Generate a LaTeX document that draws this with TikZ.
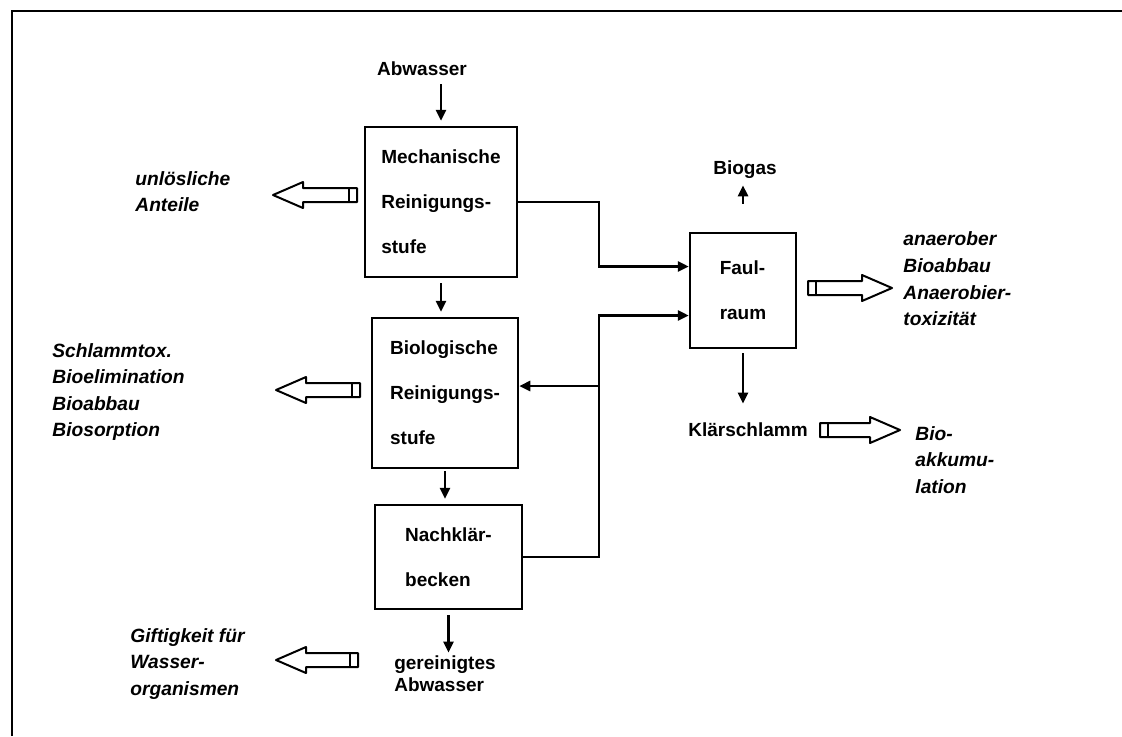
\documentclass[tikz,border=0pt]{standalone}
\usepackage{fontspec}
\setmainfont{Liberation Sans}
\usetikzlibrary{arrows.meta,calc}
\newcommand{\hollowarrow}[3]{% #1 tail coord, #2 tip coord, #3 sign (+1 tip left, -1 tip right)
  \draw[hollow] (#2) -- ++({#3*30},-13) -- ++(0,6) -- ($(#1)+(0,-7)$) -- ($(#1)+(0,7)$) -- ($(#2)+({#3*30},7)$) -- ++(0,6) -- cycle;
  \draw[hollow] ($(#1)+({#3*(-8)},-7)$) -- ++(0,14);}
\begin{document}
\begin{tikzpicture}[x=0.5pt,y=-0.5pt,
  box/.style={draw,line width=1.25pt,align=left,inner sep=0pt,font=\bfseries\fontsize{9.5}{22.5}\selectfont},
  lbl/.style={align=left,inner sep=0pt,anchor=west,font=\bfseries\itshape\fontsize{9.6}{13.3}\selectfont},
  txt/.style={align=center,inner sep=0pt,font=\bfseries\fontsize{9.5}{11}\selectfont},
  arr/.style={line width=1.3pt,-{Triangle[length=5.5pt,width=5pt]}},
  hollow/.style={line width=1pt,line join=round}]
\useasboundingbox (0,0) rectangle (1122,736);
% frame
\draw[line width=1.1pt] (12,736) -- (12,11) -- (1122,11);
% boxes
\node[box,minimum width=76pt,minimum height=75pt] (mech) at (441,202) {Mechanische\\Reinigungs-\\stufe};
\node[box,minimum width=73pt,minimum height=75pt] (bio) at (445,393) {Biologische\\Reinigungs-\\stufe};
\node[box,minimum width=73.5pt,minimum height=52pt] (nach) at (448.5,557) {Nachklär-\\becken};
\node[box,minimum width=53pt,minimum height=57.5pt] (faul) at (743,290.5) {Faul-\\raum};
% plain texts
\node[txt] (ab) at (422,69) {Abwasser};
\node[txt] (gas) at (745,170) {Biogas};
\node[txt] (kl) at (748,430) {Klärschlamm};
\node[txt,align=left] (ger) at (445,674) {gereinigtes\\Abwasser};
% italic labels
\node[lbl] (unl) at (135,191.5) {unlösliche\\Anteile};
\node[lbl] (schl) at (52,392) {Schlammtox.\\Bioelimination\\Bioabbau\\Biosorption};
\node[lbl] (gift) at (130,664) {Giftigkeit für\\Wasser-\\organismen};
\node[lbl] (anae) at (903,279) {anaerober\\Bioabbau\\Anaerobier-\\toxizität};
\node[lbl] (bioak) at (915,460) {Bio-\\akkumu-\\lation};
% connectors
\coordinate (bus) at (599,0);
\coordinate (fa1) at ([yshift=12pt]faul.west);
\coordinate (fa2) at ([yshift=-12.5pt]faul.west);
\coordinate (bi) at ([yshift=3.5pt]bio.east);
\draw[arr,shorten <=4pt,shorten >=2.5pt] (ab.south -| mech.north) -- (mech.north);
\draw[arr,shorten <=2.5pt,shorten >=2.5pt] (mech.south) -- (mech.south |- bio.north);
\draw[arr,shorten <=1pt,shorten >=2.5pt] (bio.south) -- (bio.south |- nach.north);
\draw[arr,shorten <=2.5pt,shorten >=1.5pt] (nach.south) -- (nach.south |- ger.north);
\draw[arr] (mech.east) -- (mech.east -| bus) -- (bus |- fa1) -- (fa1);
\draw[arr] (nach.east) -- (nach.east -| bus) -- (bus |- fa2) -- (fa2);
\draw[arr] (bus |- bi) -- (bi);
\draw[arr,shorten <=14pt,shorten >=3pt] (faul.north) -- (faul.north |- gas.south);
\draw[arr,shorten <=2pt,shorten >=9.5pt] (faul.south) -- (faul.south |- kl.north);
% hollow arrows
\coordinate (t1) at (357,195); \coordinate (h1) at (273,195);
\coordinate (t2) at (360,390); \coordinate (h2) at (276,390);
\coordinate (t3) at (358,660); \coordinate (h3) at (276,660);
\coordinate (t4) at (808,288); \coordinate (h4) at (892,288);
\coordinate (t5) at (820,430); \coordinate (h5) at (900,430);
\hollowarrow{t1}{h1}{1}
\hollowarrow{t2}{h2}{1}
\hollowarrow{t3}{h3}{1}
\hollowarrow{t4}{h4}{-1}
\hollowarrow{t5}{h5}{-1}
\end{tikzpicture}
\end{document}
